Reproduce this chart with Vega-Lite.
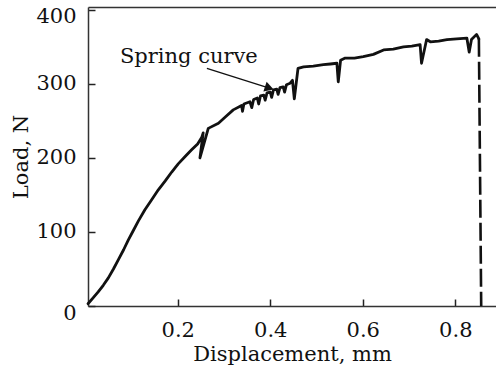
{
  "$schema": "https://vega.github.io/schema/vega-lite/v6.json",
  "width": 408,
  "height": 299,
  "autosize": {"type": "none"},
  "padding": {"left": 88, "top": 7, "right": 0, "bottom": 61},
  "background": "white",
  "config": {
    "view": {"stroke": null},
    "axis": {
      "labelFont": "DejaVu Serif",
      "titleFont": "DejaVu Serif",
      "labelColor": "#111",
      "titleColor": "#111",
      "domainColor": "#333",
      "domainWidth": 1.5,
      "tickColor": "#222",
      "tickWidth": 1.5,
      "grid": false,
      "titleFontWeight": "normal"
    }
  },
  "datasets": {
    "curve": [
      {"i": 1, "d": 0.006, "load": 3},
      {"i": 2, "d": 0.017, "load": 11},
      {"i": 3, "d": 0.028, "load": 19},
      {"i": 4, "d": 0.039, "load": 28},
      {"i": 5, "d": 0.050, "load": 38},
      {"i": 6, "d": 0.061, "load": 50},
      {"i": 7, "d": 0.072, "load": 63},
      {"i": 8, "d": 0.083, "load": 76},
      {"i": 9, "d": 0.093, "load": 89},
      {"i": 10, "d": 0.104, "load": 102},
      {"i": 11, "d": 0.115, "load": 115},
      {"i": 12, "d": 0.129, "load": 130},
      {"i": 13, "d": 0.144, "load": 144},
      {"i": 14, "d": 0.158, "load": 157},
      {"i": 15, "d": 0.173, "load": 169},
      {"i": 16, "d": 0.187, "load": 181},
      {"i": 17, "d": 0.201, "load": 192},
      {"i": 18, "d": 0.216, "load": 202},
      {"i": 19, "d": 0.230, "load": 211},
      {"i": 20, "d": 0.243, "load": 219},
      {"i": 21, "d": 0.252, "load": 228},
      {"i": 22, "d": 0.255, "load": 234},
      {"i": 23, "d": 0.248, "load": 200},
      {"i": 24, "d": 0.266, "load": 240},
      {"i": 25, "d": 0.288, "load": 247},
      {"i": 26, "d": 0.304, "load": 256},
      {"i": 27, "d": 0.320, "load": 265},
      {"i": 28, "d": 0.338, "load": 271},
      {"i": 29, "d": 0.340, "load": 263},
      {"i": 30, "d": 0.343, "load": 273},
      {"i": 31, "d": 0.356, "load": 276},
      {"i": 32, "d": 0.360, "load": 268},
      {"i": 33, "d": 0.364, "load": 279},
      {"i": 34, "d": 0.372, "load": 281},
      {"i": 35, "d": 0.375, "load": 273},
      {"i": 36, "d": 0.379, "load": 284},
      {"i": 37, "d": 0.386, "load": 285},
      {"i": 38, "d": 0.389, "load": 278},
      {"i": 39, "d": 0.393, "load": 288},
      {"i": 40, "d": 0.400, "load": 289},
      {"i": 41, "d": 0.403, "load": 282},
      {"i": 42, "d": 0.407, "load": 292},
      {"i": 43, "d": 0.414, "load": 293},
      {"i": 44, "d": 0.417, "load": 286},
      {"i": 45, "d": 0.421, "load": 295},
      {"i": 46, "d": 0.428, "load": 296},
      {"i": 47, "d": 0.431, "load": 289},
      {"i": 48, "d": 0.435, "load": 299},
      {"i": 49, "d": 0.443, "load": 301},
      {"i": 50, "d": 0.448, "load": 305},
      {"i": 51, "d": 0.452, "load": 280},
      {"i": 52, "d": 0.460, "load": 321},
      {"i": 53, "d": 0.472, "load": 323},
      {"i": 54, "d": 0.493, "load": 324},
      {"i": 55, "d": 0.515, "load": 326},
      {"i": 56, "d": 0.530, "load": 327},
      {"i": 57, "d": 0.544, "load": 328},
      {"i": 58, "d": 0.547, "load": 303},
      {"i": 59, "d": 0.552, "load": 332},
      {"i": 60, "d": 0.562, "load": 335},
      {"i": 61, "d": 0.582, "load": 335},
      {"i": 62, "d": 0.601, "load": 337},
      {"i": 63, "d": 0.623, "load": 340},
      {"i": 64, "d": 0.645, "load": 346},
      {"i": 65, "d": 0.666, "load": 347},
      {"i": 66, "d": 0.688, "load": 350},
      {"i": 67, "d": 0.706, "load": 351},
      {"i": 68, "d": 0.724, "load": 353},
      {"i": 69, "d": 0.727, "load": 328},
      {"i": 70, "d": 0.738, "load": 360},
      {"i": 71, "d": 0.746, "load": 357},
      {"i": 72, "d": 0.764, "load": 358},
      {"i": 73, "d": 0.782, "load": 360},
      {"i": 74, "d": 0.803, "load": 361},
      {"i": 75, "d": 0.825, "load": 362},
      {"i": 76, "d": 0.830, "load": 343},
      {"i": 77, "d": 0.835, "load": 360},
      {"i": 78, "d": 0.846, "load": 367},
      {"i": 79, "d": 0.851, "load": 361}
    ],
    "drop": [
      {"d": 0.851, "load": 361},
      {"d": 0.856, "load": 0}
    ],
    "label": [
      {"d": 0.075, "load": 328, "text": "Spring curve"}
    ],
    "arrow": [
      {"d": 0.263, "load": 321, "d2": 0.398, "load2": 294.5}
    ]
  },
  "layer": [
    {
      "data": {"name": "curve"},
      "mark": {"type": "line", "color": "#111", "strokeWidth": 2.8, "strokeJoin": "round", "strokeCap": "round"},
      "encoding": {
        "x": {
          "field": "d", "type": "quantitative",
          "scale": {"domain": [0.006, 0.888], "nice": false, "zero": false},
          "axis": {
            "orient": "bottom",
            "values": [0.2, 0.4, 0.6, 0.8],
            "format": ".1f",
            "ticks": true,
            "tickSize": -7,
            "labelFontSize": 21,
            "labelPadding": 20,
            "labelFlush": false,
            "title": "Displacement, mm",
            "titleFontSize": 21,
            "titlePadding": 3
          }
        },
        "y": {
          "field": "load", "type": "quantitative",
          "scale": {"domain": [0, 404], "nice": false},
          "axis": {
            "orient": "left",
            "values": [0, 100, 200, 300, 400],
            "ticks": true,
            "tickSize": -7,
            "labelFontSize": 21,
            "labelPadding": 19,
            "labelFlush": false,
            "labelOffset": {"condition": {"test": "datum.value == 0 || datum.value == 400", "value": 7}, "value": 0},
            "title": "Load, N",
            "titleFontSize": 21,
            "titlePadding": 4
          }
        },
        "order": {"field": "i", "type": "quantitative"}
      }
    },
    {
      "data": {"name": "drop"},
      "mark": {"type": "line", "color": "#111", "strokeWidth": 2.6, "strokeDash": [18, 5]},
      "encoding": {
        "x": {"field": "d", "type": "quantitative",
          "axis": {"orient": "top", "labels": false, "ticks": false, "title": null, "values": []}},
        "y": {"field": "load", "type": "quantitative", "axis": null}
      }
    },
    {
      "data": {"name": "label"},
      "mark": {"type": "text", "align": "left", "baseline": "alphabetic", "font": "DejaVu Serif", "fontSize": 21, "color": "#111"},
      "encoding": {
        "x": {"field": "d", "type": "quantitative", "axis": null},
        "y": {"field": "load", "type": "quantitative", "axis": null},
        "text": {"field": "text"}
      }
    },
    {
      "data": {"name": "arrow"},
      "mark": {"type": "rule", "color": "#111", "strokeWidth": 1.3},
      "encoding": {
        "x": {"field": "d", "type": "quantitative", "axis": null},
        "y": {"field": "load", "type": "quantitative", "axis": null},
        "x2": {"field": "d2"},
        "y2": {"field": "load2"}
      }
    },
    {
      "data": {"name": "arrow"},
      "mark": {"type": "point", "shape": "triangle-right", "filled": true, "color": "#111", "size": 110, "angle": 18, "opacity": 1},
      "encoding": {
        "x": {"field": "d2", "type": "quantitative", "axis": null},
        "y": {"field": "load2", "type": "quantitative", "axis": null}
      }
    }
  ],
  "resolve": {"axis": {"x": "independent", "y": "independent"}}
}
